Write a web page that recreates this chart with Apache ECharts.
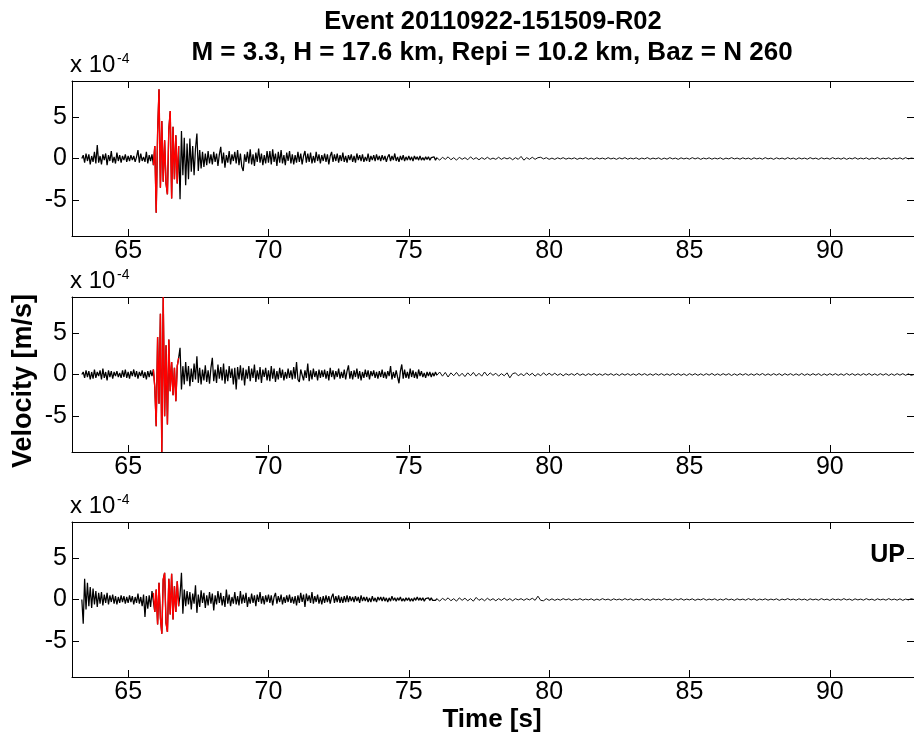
<!DOCTYPE html>
<html>
<head>
<meta charset="utf-8">
<script src="https://cdn.jsdelivr.net/npm/echarts@6/dist/echarts.min.js"></script>
<style>
html,body{margin:0;padding:0;background:#fff;}
#c{width:914px;height:736px;}
</style>
</head>
<body>
<div id="c"></div>
<script>
// ---- data (velocity in units of 1e-4 m/s) ----
const titleLine1 = "Event 20110922-151509-R02";
const titleLine2 = "M = 3.3, H = 17.6 km, Repi = 10.2 km, Baz = N 260";
const xTicks = [65, 70, 75, 80, 85, 90];
const yTicks = [-5, 0, 5];
const xRange = [63, 93];
const yRange = [-9.3, 9.3];
const redWindow = [65.9, 66.8];
const headStart = 63.35, headStep = 0.05;   // samples 63.35 .. 76.00
const tailStart = 76.1, tailStep = 0.1;     // samples 76.1 .. 93.0

const topHead = [
0,0.4,-0.5,0.6,-0.3,0.5,-0.7,0.3,-0.4,0.8,-0.6,1.6,-0.5,
0.3,-0.7,0.5,-0.2,0.6,-0.8,0.4,-0.3,0.9,-0.5,0.2,-0.6,0.7,-0.3,0.4,-0.5,0.3,-0.2,0.5,-0.4,
0.3,-0.3,0.4,-0.2,0.3,-0.4,0.2,1.0,-0.5,0.6,-0.3,0.2,-0.4,0.8,-0.6,0.4,-0.3,0.5,-0.8,1.5,
-6.5,3.0,8.3,-3.5,4.5,-2.8,2.2,-3.0,-4.3,3.5,5.7,-4.8,3.8,-2.5,2.8,-3.0,1.5,-4.9,3.3,-2.0,
2.5,-3.2,1.8,-2.5,2.4,-1.6,1.5,-2.0,1.2,3.0,-1.5,1.0,-1.2,0.8,-1.0,0.6,-0.8,0.9,-0.6,0.5,
-0.7,0.8,-0.4,0.6,-0.9,0.5,1.4,-0.6,0.7,-1.1,0.4,-0.5,0.9,-0.7,0.5,-0.3,0.8,-0.6,1.0,-0.8,
0.6,-1.0,-1.5,0.5,-0.4,0.8,-0.6,1.1,-0.7,0.5,-0.9,0.7,-0.4,1.2,-0.5,0.6,-0.8,0.4,-0.6,0.9,
-0.5,0.9,-0.7,1.1,-0.4,0.6,-0.9,0.8,-0.5,1.0,-0.6,0.4,-0.8,0.7,-0.3,0.9,-0.6,0.5,-0.7,0.4,
-0.5,0.8,-0.4,0.6,-0.7,0.3,0.9,-0.5,0.6,-0.4,0.7,-0.6,0.3,-0.5,0.8,-0.3,0.5,-0.6,0.4,-0.3,
0.6,-0.4,0.5,-0.7,0.3,0.8,-0.4,0.5,-0.3,0.6,-0.5,0.4,-0.3,0.7,-0.4,0.3,-0.5,0.4,-0.2,0.5,
-0.4,0.3,-0.5,0.6,-0.2,0.4,-0.3,0.5,-0.4,0.2,-0.3,0.6,-0.4,0.3,-0.2,0.4,-0.3,0.5,-0.2,0.3,
-0.3,0.4,-0.2,0.3,-0.4,0.2,0.5,-0.3,0.3,-0.2,0.6,-0.3,0.2,-0.4,0.3,-0.2,0.4,-0.3,0.2,-0.2,
0.3,-0.2,0.2,-0.3,0.3,-0.1,0.2,-0.2,0.3,-0.2,0.1,-0.2,0.2,-0.1,0.2,-0.2,0.1,-0.1,0.2,-0.2,0.1
];
const topTail = [
-0.2,0.15,-0.1,0.2,-0.15,0.1,-0.2,0.15,-0.1,0.1,
-0.15,0.2,-0.1,0.1,-0.15,0.1,-0.1,0.15,-0.1,0.05,
-0.1,0.15,-0.1,0.1,-0.05,0.1,-0.15,0.1,-0.1,0.25,
-0.2,0.1,-0.1,0.15,-0.1,0.1,0.15,-0.05,0.1,-0.1,
0.05,-0.1,0.08,-0.05,0.1,-0.08,0.05,-0.05,0.08,-0.1,
0.05,-0.05,0.1,-0.08,0.05,-0.1,0.08,-0.05,0.05,-0.08,
0.1,-0.05,0.05,-0.1,0.08,-0.05,0.1,-0.08,0.05,-0.05,
0.08,-0.1,0.05,-0.05,0.1,-0.08,0.05,-0.05,0.08,-0.1,
0.05,-0.08,0.1,-0.05,0.05,-0.1,0.08,-0.05,0.05,-0.08,
0.1,-0.05,0.08,-0.1,0.05,-0.05,0.08,-0.08,0.05,-0.05,
0.08,-0.1,0.05,-0.05,0.1,-0.05,0.05,-0.08,0.08,-0.05,
0.05,-0.1,0.08,-0.05,0.05,-0.08,0.1,-0.05,0.05,-0.1,
0.08,-0.05,0.05,-0.08,0.1,-0.05,0.05,-0.1,0.08,-0.05,
0.05,-0.08,0.1,-0.05,0.05,-0.1,0.08,-0.05,0.05,-0.08,
0.1,-0.05,0.05,-0.08,0.08,-0.1,0.05,-0.05,0.1,-0.08,
0.05,-0.05,0.08,-0.1,0.05,-0.05,0.1,-0.08,0.05,-0.05,
0.08,-0.1,0.05,-0.05,0.08,-0.08,0.1,-0.05,0.05,0
];

const midHead = [
0,0.3,-0.4,0.5,-0.3,0.4,-0.6,0.3,-0.5,0.6,-0.4,0.3,-0.2,
0.5,-0.6,0.7,-0.4,0.3,-0.7,0.5,-0.3,0.4,-0.5,0.3,-0.2,0.4,-0.3,0.2,-0.4,0.5,-0.3,0.6,-0.4,
0.3,-0.5,0.4,-0.2,0.6,-0.3,0.4,-0.5,0.3,-0.2,0.5,-0.4,0.3,-0.6,0.4,-0.3,0.5,-0.2,0.6,-1.5,
-6.2,4.5,-3.5,7.3,-9.3,9.3,-5.0,3.5,-6.0,4.2,-2.0,1.5,-2.5,0.8,-3.2,1.0,2.0,3.2,-1.8,1.0,
-1.2,1.5,-0.8,1.0,-1.4,0.7,-0.9,1.3,-0.6,2.2,-1.0,0.8,-1.2,0.6,-0.7,1.1,-0.9,0.5,-1.1,0.8,
2.0,-0.8,0.6,-1.0,1.2,-0.5,0.9,-0.7,1.3,-1.1,0.6,-0.8,1.0,-0.4,0.7,-1.2,0.8,-1.8,0.9,-0.6,
1.1,-0.7,0.8,-1.3,0.6,-0.5,1.0,-0.8,0.7,-0.4,1.2,-0.9,0.5,-0.6,0.9,-1.0,0.6,-0.3,0.8,-0.7,
0.5,-0.8,1.0,-0.5,0.7,-0.9,0.4,-0.6,0.8,-0.4,0.6,-0.7,0.3,-0.5,0.7,-0.4,0.5,-0.6,0.9,-0.5,
1.5,-0.6,-0.9,0.6,0.4,-0.7,0.5,-0.4,1.3,-0.8,0.5,-0.6,0.7,-0.3,0.4,-0.7,0.6,-0.4,0.5,-0.3,
0.6,-0.5,0.4,-0.7,0.8,-0.3,0.5,-0.6,0.4,-0.3,0.7,-0.5,0.3,-0.4,0.6,-0.6,0.4,1.1,-0.5,0.4,
-0.6,0.5,-0.3,0.7,-0.5,0.4,-0.7,0.3,-0.4,0.6,-0.3,0.5,-0.6,0.4,-0.2,0.5,-0.4,0.3,-0.5,0.4,
-0.3,0.6,-0.4,0.3,-0.5,0.4,-0.2,1.0,-0.6,0.3,-0.4,0.5,-0.3,-1.05,0.4,1.2,-0.5,0.6,-0.4,0.3,
-0.5,0.7,-0.3,0.5,-0.4,0.3,-0.5,0.6,-0.2,0.4,-0.3,0.2,-0.4,0.3,-0.2,0.3,-0.3,0.2,-0.2,0.3,-0.1
];
const midTail = [
0.3,-0.2,0.25,-0.3,0.2,-0.15,0.25,-0.2,0.15,-0.25,
0.2,-0.15,0.25,-0.2,0.15,-0.2,0.3,-0.15,0.2,-0.1,
0.15,-0.2,0.1,-0.15,0.2,-0.4,0.1,0.2,-0.15,0.1,
-0.15,0.2,-0.1,0.15,-0.2,0.1,-0.15,0.2,-0.1,0.15,
-0.1,0.15,-0.1,0.1,-0.15,0.1,-0.08,0.1,-0.1,0.15,
-0.1,0.08,-0.12,0.1,-0.08,0.12,-0.1,0.08,-0.1,0.1,
-0.08,0.1,-0.1,0.08,-0.12,0.1,-0.08,0.1,-0.1,0.08,
-0.1,0.12,-0.08,0.1,-0.1,0.08,-0.1,0.1,-0.08,0.1,
-0.1,0.08,-0.1,0.12,-0.08,0.1,-0.1,0.08,-0.12,0.1,
-0.08,0.1,-0.1,0.08,-0.1,0.1,-0.08,0.12,-0.1,0.08,
-0.1,0.1,-0.08,0.1,-0.12,0.08,-0.1,0.1,-0.08,0.1,
-0.1,0.08,-0.1,0.1,-0.08,0.12,-0.1,0.08,-0.1,0.1,
-0.08,0.1,-0.12,0.1,-0.08,0.1,-0.1,0.08,-0.1,0.12,
-0.1,0.08,-0.1,0.1,-0.08,0.1,-0.12,0.08,-0.1,0.1,
-0.08,0.1,-0.1,0.08,-0.1,0.12,-0.08,0.1,-0.1,0.08,
-0.1,0.1,-0.08,0.12,-0.1,0.08,-0.1,0.1,-0.08,0.1,
-0.12,0.08,-0.1,0.1,-0.08,0.1,-0.1,0.08,-0.1,0
];

const upHead = [
0,-2.9,2.5,-1.2,2.0,-0.8,1.5,-1.0,1.3,-0.6,1.0,-0.9,0.8,
-0.5,0.9,-0.7,0.6,-0.4,0.8,-0.6,0.5,-0.3,0.6,-0.5,0.4,-0.6,0.3,-0.4,0.5,-0.3,0.4,-0.5,0.3,
-0.4,0.5,-0.3,0.4,-0.6,0.3,-0.4,0.7,-0.5,0.3,-0.8,0.6,-2.1,0.4,-1.1,0.5,-0.9,1.0,0.8,-1.5,
1.2,-3.0,2.0,-2.2,-4.1,2.4,3.2,-2.8,-3.9,2.5,-1.8,3.1,-2.4,1.6,-1.5,2.2,-0.8,0.5,3.2,-1.7,
1.2,-0.8,1.0,-0.6,0.9,-1.2,0.7,-0.5,1.7,-1.6,0.6,-0.9,1.1,-0.4,0.8,-1.0,0.5,-0.7,0.9,-0.5,
0.7,-1.3,0.5,-0.6,1.0,-0.4,0.8,-0.7,0.4,-0.9,1.2,-0.5,0.6,-0.8,0.3,-0.5,0.9,-0.6,0.4,-0.7,
1.0,-0.5,0.6,-0.4,0.8,-0.9,0.3,-0.5,0.7,-0.4,0.5,-0.8,0.6,-0.3,0.9,-0.5,0.4,-0.6,0.5,-0.3,
0.6,-0.4,0.5,-0.7,0.3,0.8,-0.5,0.4,-0.3,0.6,-0.6,0.3,-0.4,0.5,-0.3,0.6,-0.4,0.3,-0.5,0.4,
-0.7,0.5,-0.4,0.8,-0.3,0.6,-0.9,0.7,-0.2,0.5,-0.4,0.9,-0.5,0.4,-0.3,0.6,-0.5,0.3,-0.6,0.4,
-0.4,0.5,-0.3,0.4,-0.5,0.3,0.7,-0.4,0.4,-0.3,0.5,-0.4,0.3,-0.4,0.4,-0.3,0.5,-0.3,0.4,-0.2,
0.3,-0.3,0.4,-0.2,0.3,-0.4,0.5,-0.2,0.3,-0.2,0.3,-0.3,0.2,-0.3,0.4,-0.2,0.2,-0.3,0.3,-0.1,
0.3,-0.2,0.3,-0.2,0.2,-0.3,0.2,-0.2,0.4,-0.1,0.2,-0.2,0.2,-0.1,0.3,-0.2,0.1,-0.2,0.2,-0.1,
0.2,-0.2,0.1,-0.2,0.2,-0.1,0.3,-0.1,0.2,-0.1,0.2,-0.2,0.1,-0.1,0.2,-0.1,0.2,-0.1,0.1,-0.1,0.1
];
const upTail = [
-0.2,0.15,-0.1,0.2,-0.15,0.1,-0.2,0.2,-0.1,0.15,
-0.15,0.1,-0.2,0.25,-0.1,0.1,-0.15,0.15,-0.1,0.1,
-0.15,0.1,-0.1,0.15,-0.1,0.1,-0.15,0.1,-0.05,0.1,
-0.1,0.1,-0.05,0.15,-0.1,0.4,-0.1,-0.15,0.1,-0.1,
0.08,-0.1,0.05,-0.08,0.1,-0.05,0.08,-0.1,0.05,-0.05,
0.1,-0.08,0.05,-0.05,0.08,-0.1,0.05,-0.08,0.1,-0.05,
0.05,-0.1,0.08,-0.05,0.05,-0.08,0.1,-0.05,0.08,-0.1,
0.05,-0.05,0.1,-0.08,0.05,-0.1,0.08,-0.05,0.05,-0.08,
0.1,-0.05,0.05,-0.1,0.08,-0.05,0.1,-0.08,0.05,-0.05,
0.08,-0.1,0.05,-0.05,0.1,-0.08,0.05,-0.05,0.08,-0.1,
0.05,-0.08,0.1,-0.05,0.05,-0.1,0.08,-0.05,0.05,-0.08,
0.1,-0.05,0.08,-0.1,0.05,-0.05,0.08,-0.08,0.05,-0.05,
0.08,-0.1,0.05,-0.05,0.1,-0.05,0.05,-0.08,0.08,-0.05,
0.05,-0.1,0.08,-0.05,0.05,-0.08,0.1,-0.05,0.05,-0.1,
0.08,-0.05,0.05,-0.08,0.1,-0.05,0.05,-0.1,0.08,-0.05,
0.05,-0.08,0.1,-0.05,0.05,-0.1,0.08,-0.05,0.05,-0.08,
0.1,-0.05,0.05,-0.08,0.08,-0.1,0.05,-0.05,0.1,0
];

// ---- build ----
function headPairs(head) {
  return head.map((v, i) => [+(headStart + i * headStep).toFixed(3), v]);
}
function tailPairs(head, tail) {
  const last = head.length - 1;
  const out = [[+(headStart + last * headStep).toFixed(3), head[last]]];
  tail.forEach((v, i) => out.push([+(tailStart + i * tailStep).toFixed(3), v]));
  return out;
}
function redPart(pairs) {
  return pairs.filter(p => p[0] >= redWindow[0] - 1e-6 && p[0] <= redWindow[1] + 1e-6);
}
const heads = [topHead, midHead, upHead];
const tails = [topTail, midTail, upTail];

const FONT = "'Liberation Sans', Arial, sans-serif";
const gridTops = [81, 297, 522];
const gridH = 155;
const grids = gridTops.map(t => ({ left: 72, top: t, width: 844, height: gridH, containLabel: false }));

const xAxes = [], yAxes = [], series = [];
gridTops.forEach((t, g) => {
  const tickCommon = { show: true, inside: true, length: 7, lineStyle: { color: '#000', width: 1 } };
  xAxes.push({
    type: 'value', gridIndex: g, position: 'bottom', min: xRange[0], max: xRange[1],
    axisLine: { show: true, onZero: false, lineStyle: { color: '#000', width: 1 } },
    axisTick: Object.assign({ customValues: xTicks }, tickCommon),
    axisLabel: { show: true, customValues: xTicks, color: '#000', fontSize: 25, fontFamily: FONT, margin: 3 },
    splitLine: { show: false }
  });
  xAxes.push({
    type: 'value', gridIndex: g, position: 'top', min: xRange[0], max: xRange[1],
    axisLine: { show: true, onZero: false, lineStyle: { color: '#000', width: 1 } },
    axisTick: Object.assign({ customValues: xTicks }, tickCommon),
    axisLabel: { show: false }, splitLine: { show: false }
  });
  yAxes.push({
    type: 'value', gridIndex: g, position: 'left', min: yRange[0], max: yRange[1],
    axisLine: { show: true, onZero: false, lineStyle: { color: '#000', width: 1 } },
    axisTick: Object.assign({ customValues: yTicks }, tickCommon),
    axisLabel: { show: true, customValues: yTicks, color: '#000', fontSize: 25, fontFamily: FONT, margin: 5 },
    splitLine: { show: false }
  });
  yAxes.push({
    type: 'value', gridIndex: g, position: 'right', min: yRange[0], max: yRange[1],
    axisLine: { show: true, onZero: false, lineStyle: { color: '#000', width: 1 } },
    axisTick: Object.assign({ customValues: yTicks }, tickCommon),
    axisLabel: { show: false }, splitLine: { show: false }
  });
  const hp = headPairs(heads[g]);
  series.push({
    type: 'line', xAxisIndex: g * 2, yAxisIndex: g * 2, data: hp,
    showSymbol: false, symbol: 'none', lineStyle: { color: '#000', width: 1.25 }, z: 2, silent: true
  });
  series.push({
    type: 'line', xAxisIndex: g * 2, yAxisIndex: g * 2, data: tailPairs(heads[g], tails[g]),
    showSymbol: false, symbol: 'none', lineStyle: { color: '#111', width: 1 }, z: 2, silent: true
  });
  series.push({
    type: 'line', xAxisIndex: g * 2, yAxisIndex: g * 2, data: redPart(hp),
    showSymbol: false, symbol: 'none', lineStyle: { color: '#ff0000', width: 1.4 }, z: 3, silent: true
  });
});

const expoLabels = gridTops.map(t => [
  { type: 'text', x: 70, y: t - 4, style: { text: 'x 10', fontSize: 24, fontFamily: FONT, fill: '#000', align: 'left', verticalAlign: 'bottom' } },
  { type: 'text', x: 117, y: t - 15, style: { text: '-4', fontSize: 14, fontFamily: FONT, fill: '#000', align: 'left', verticalAlign: 'bottom' } }
]).flat();

const option = {
  animation: false,
  backgroundColor: '#fff',
  grid: grids,
  xAxis: xAxes,
  yAxis: yAxes,
  series: series,
  graphic: [
    { type: 'text', x: 493, y: 22, style: { text: titleLine1, fontSize: 25.5, fontWeight: 'bold', fontFamily: FONT, fill: '#000', align: 'center', verticalAlign: 'middle' } },
    { type: 'text', x: 492, y: 53, style: { text: titleLine2, fontSize: 26, fontWeight: 'bold', fontFamily: FONT, fill: '#000', align: 'center', verticalAlign: 'middle' } },
    { type: 'text', x: 24, y: 381, rotation: Math.PI / 2, style: { text: 'Velocity [m/s]', fontSize: 27, fontWeight: 'bold', fontFamily: FONT, fill: '#000', align: 'center', verticalAlign: 'middle' } },
    { type: 'text', x: 492, y: 720, style: { text: 'Time [s]', fontSize: 26, fontWeight: 'bold', fontFamily: FONT, fill: '#000', align: 'center', verticalAlign: 'middle' } },
    { type: 'text', x: 905, y: 555, style: { text: 'UP', fontSize: 25, fontWeight: 'bold', fontFamily: FONT, fill: '#000', align: 'right', verticalAlign: 'middle' } }
  ].concat(expoLabels)
};

const chart = echarts.init(document.getElementById('c'), null, { renderer: 'canvas' });
chart.setOption(option);
</script>
</body>
</html>
